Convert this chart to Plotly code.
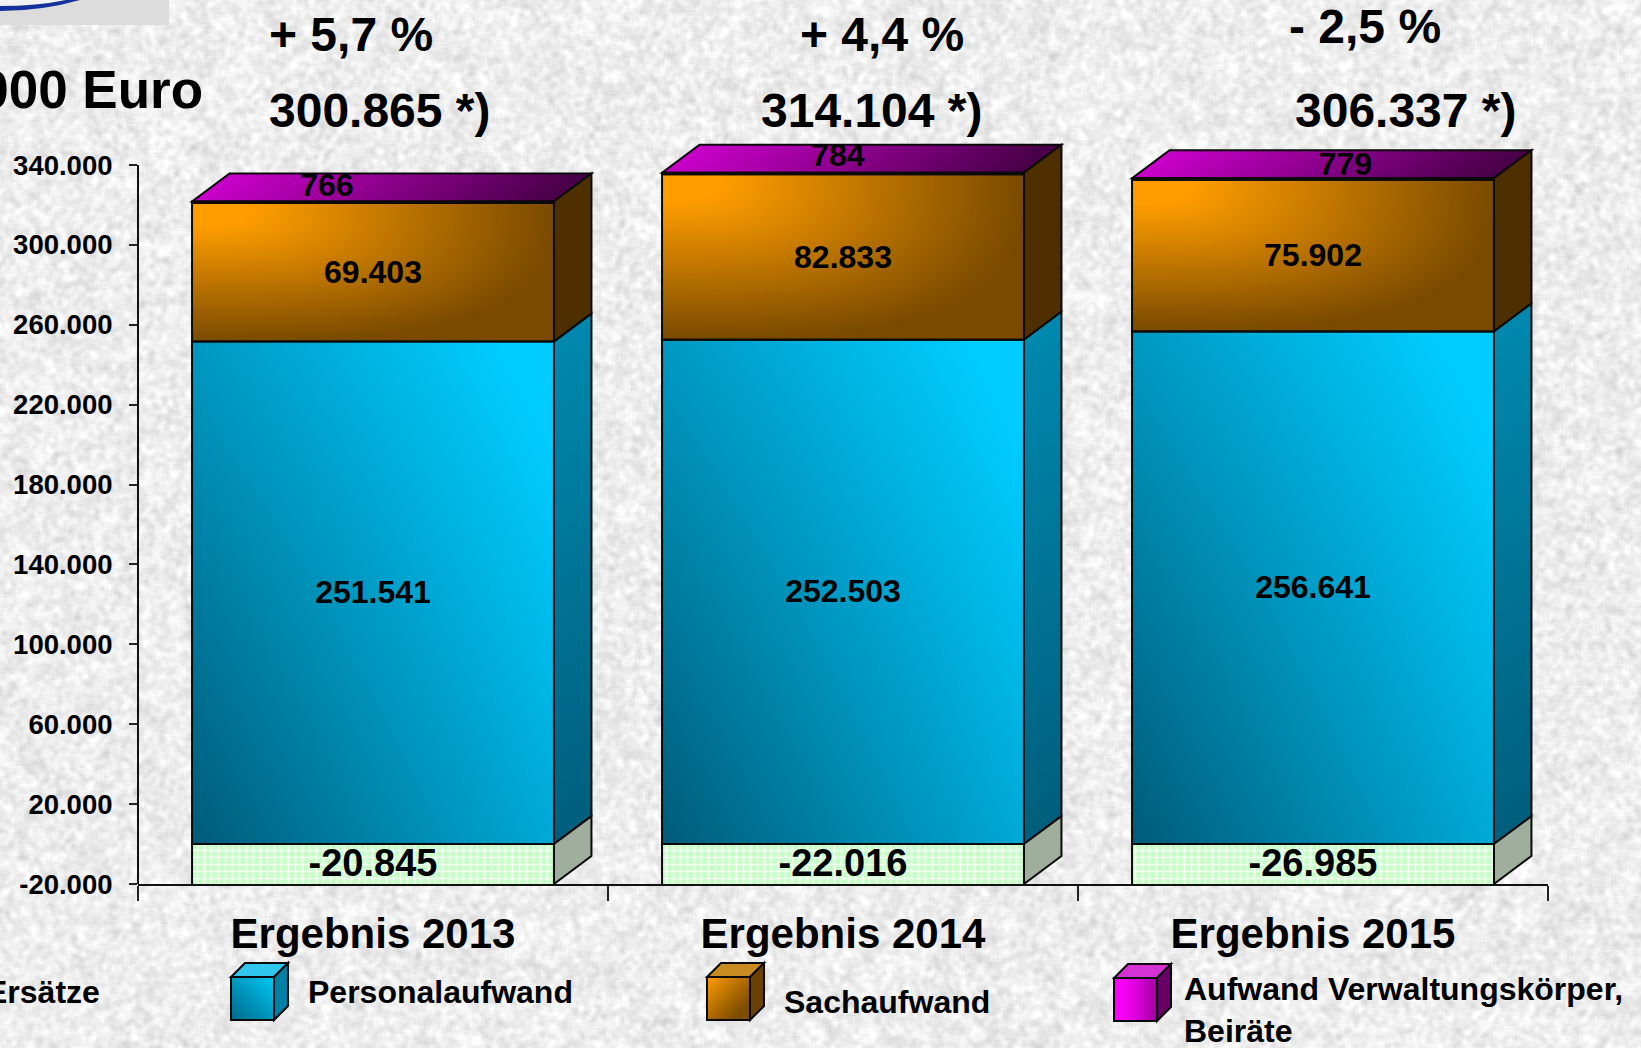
import base64, struct, zlib
import numpy as np
import plotly.graph_objects as go

# ---------- data ----------
years = ["Ergebnis 2013", "Ergebnis 2014", "Ergebnis 2015"]
ersaetze = [-20845, -22016, -26985]
personal = [251541, 252503, 256641]
sach = [69403, 82833, 75902]
verwaltung = [766, 784, 779]
change_labels = ["+ 5,7 %", "+ 4,4 %", "- 2,5 %"]
total_labels = ["300.865 *)", "314.104 *)", "306.337 *)"]
y_ticks = [-20000, 20000, 60000, 100000, 140000, 180000, 220000, 260000, 300000, 340000]
y_tick_text = ["-20.000", "20.000", "60.000", "100.000", "140.000", "180.000", "220.000", "260.000", "300.000", "340.000"]
ersaetze_text = ["-20.845", "-22.016", "-26.985"]
personal_text = ["251.541", "252.503", "256.641"]
sach_text = ["69.403", "82.833", "75.902"]
verwaltung_text = ["766", "784", "779"]

# ---------- style / layout constants ----------
W, H = 1641, 1048
ML, MR, MT, MB = 138, 93, 105, 164
PW, PH = W - ML - MR, H - MT - MB
Y_MIN, Y_MAX = -20000, 370000
BAR_W = 0.77
DX = 37.5 / 470        # depth of the 3D faces, category units
DY = 14000             # depth of the 3D faces, value units
FONT = "Liberation Sans"
XS = list(range(len(years)))
verw_label_dx = [-0.098, -0.011, 0.069]
verw_label_dy = [7900, 8600, 6800]
LABEL_NUDGE = -1300


def fx(px):
    return (px - ML) / PW


def fy(py):
    return 1 - (py - MT) / PH


def png(arr):
    """Encode a uint8 array (h, w) or (h, w, 3) as a PNG data URI."""
    arr = np.asarray(arr, dtype=np.uint8)
    ctype = 0 if arr.ndim == 2 else 2
    h, w = arr.shape[:2]
    raw = b"".join(b"\x00" + arr[i].tobytes() for i in range(h))

    def chunk(t, d):
        return struct.pack(">I", len(d)) + t + d + struct.pack(">I", zlib.crc32(t + d) & 0xFFFFFFFF)

    data = (b"\x89PNG\r\n\x1a\n" + chunk(b"IHDR", struct.pack(">IIBBBBB", w, h, 8, ctype, 0, 0, 0))
            + chunk(b"IDAT", zlib.compress(raw, 9)) + chunk(b"IEND", b""))
    return "data:image/png;base64," + base64.b64encode(data).decode()


def paper_texture():
    h, w = H // 2, W // 2
    yy, xx = np.mgrid[0:h, 0:w].astype(float)

    def hash_noise(a, b):
        v = np.sin(xx * a + yy * b) * 43758.5453
        return v - np.floor(v)

    def blur(v, k):
        for axis in (0, 1):
            v = sum(np.roll(v, s, axis=axis) for s in range(-k, k + 1)) / (2 * k + 1)
        return v

    fine = blur(hash_noise(12.9898, 78.233), 1)
    coarse = blur(blur(hash_noise(39.346, 11.135), 3), 2)
    fine = (fine - fine.mean()) / fine.std()
    coarse = (coarse - coarse.mean()) / coarse.std()
    g = 238 + 7.5 * fine + 2.5 * coarse
    return np.clip(g, 195, 255)


def gradient_png(c0, c1, fn, n=48):
    v, u = np.mgrid[0:n, 0:n] / (n - 1)
    t = fn(u, v)[..., None]
    return png(np.array(c0) * (1 - t) + np.array(c1) * t)


def hex_mix(c0, c1, t):
    return "rgb(%d,%d,%d)" % tuple(round(a + (b - a) * t) for a, b in zip(c0, c1))


def poly(points):
    return "M " + " L ".join(f"{x} {y}" for x, y in points) + " Z"


fig = go.Figure()


# ---------- gradient fronts (sit under the transparent bars) ----------
def blue_t(u, v):
    d = 0.5 * (1 - u) + 0.36 * v + 0.14 * (1 - u) * v
    return 1 - np.clip((d - 0.08) / 0.92, 0, 1)


def orange_t(u, v):
    d = (u ** 3 + v ** 3) ** (1 / 3)
    return np.clip((d - 0.16) / 0.84, 0, 1)


def gradient_front(centre, low, high, fn, colors):
    nx, ny = 50, 50
    xe = np.linspace(centre - BAR_W / 2, centre + BAR_W / 2, nx + 1)
    ye = np.linspace(low, high, ny + 1)
    uu = (np.arange(nx) + 0.5) / nx
    vv = 1 - (np.arange(ny) + 0.5) / ny
    u, v = np.meshgrid(uu, vv)
    fig.add_trace(go.Heatmap(x=xe, y=ye, z=fn(u, v), zmin=0, zmax=1, colorscale=colors,
                             showscale=False, hoverinfo="skip", zsmooth="best"))


for i in XS:
    gradient_front(i, 0, personal[i], blue_t, [[0, "#005b79"], [1, "#00ccff"]])
    gradient_front(i, personal[i], personal[i] + sach[i], orange_t, [[0, "#ff9d00"], [1, "#794a00"]])

# ---------- the stacked bars ----------
edge = dict(color="#0a0a0a", width=2)
fig.add_trace(go.Bar(x=XS, y=ersaetze, width=BAR_W, name="Ersätze",
                     marker=dict(color="#ccffcc", line=edge,
                                 pattern=dict(shape="+", size=7, solidity=0.42, fgcolor="#f0fff0",
                                              bgcolor="#c8fdc8", fillmode="replace"))))
fig.add_trace(go.Bar(x=XS, y=personal, width=BAR_W, name="Personalaufwand",
                     marker=dict(color="rgba(0,160,200,0)", line=edge)))
fig.add_trace(go.Bar(x=XS, y=sach, width=BAR_W, name="Sachaufwand",
                     marker=dict(color="rgba(180,110,0,0)", line=edge)))
fig.add_trace(go.Bar(x=XS, y=verwaltung, width=BAR_W, name="Aufwand Verwaltungskörper, Beiräte",
                     marker=dict(color="#c000c0", line=edge)))


# ---------- value labels ----------
def labels(xs, ys, text, size):
    fig.add_trace(go.Scatter(x=xs, y=[v + LABEL_NUDGE for v in ys], text=text, mode="text",
                             textposition="middle center",
                             textfont=dict(family=FONT, size=size, color="#000000", weight="bold"),
                             hoverinfo="skip", cliponaxis=False))


labels(XS, [max(v, Y_MIN) / 2 for v in ersaetze], ersaetze_text, 38)
labels(XS, [v / 2 for v in personal], personal_text, 32)
labels(XS, [p + s / 2 for p, s in zip(personal, sach)], sach_text, 32)
labels([i + d for i, d in zip(XS, verw_label_dx)],
       [p + s + v + d for p, s, v, d in zip(personal, sach, verwaltung, verw_label_dy)],
       verwaltung_text, 32)

# ---------- 3D faces built from the values ----------
shapes = []
STRIPS = 36
OUT = dict(color="#0a0a0a", width=2)
for i in XS:
    x0, x1 = i - BAR_W / 2, i + BAR_W / 2
    pe, so, total = personal[i], personal[i] + sach[i], personal[i] + sach[i] + verwaltung[i]
    floor_v = max(ersaetze[i], Y_MIN)
    # top face, horizontal gradient
    for k in range(STRIPS):
        a = x0 + (x1 - x0) * k / STRIPS
        b = x0 + (x1 - x0) * min(k + 1.4, STRIPS) / STRIPS
        shapes.append(dict(type="path", layer="below", xref="x", yref="y", line=dict(width=0),
                           fillcolor=hex_mix((0xC8, 0, 0xC8), (0x48, 0, 0x48), k / (STRIPS - 1)),
                           path=poly([(a, total), (b, total), (b + DX, total + DY), (a + DX, total + DY)])))
    shapes.append(dict(type="path", layer="below", xref="x", yref="y", line=OUT,
                       path=poly([(x0, total), (x1, total), (x1 + DX, total + DY), (x0 + DX, total + DY)])))
    # side of the orange part
    shapes.append(dict(type="path", layer="below", xref="x", yref="y", line=OUT, fillcolor="#4d2f00",
                       path=poly([(x1, pe), (x1 + DX, pe + DY), (x1 + DX, total + DY), (x1, total)])))
    # side of the blue part, vertical gradient
    for k in range(STRIPS):
        a = pe * k / STRIPS
        b = pe * min(k + 1.4, STRIPS) / STRIPS
        shapes.append(dict(type="path", layer="below", xref="x", yref="y", line=dict(width=0),
                           fillcolor=hex_mix((0x00, 0x5F, 0x7D), (0x00, 0x88, 0xAE), k / (STRIPS - 1)),
                           path=poly([(x1, a), (x1 + DX, a + DY), (x1 + DX, b + DY), (x1, b)])))
    shapes.append(dict(type="path", layer="below", xref="x", yref="y", line=OUT,
                       path=poly([(x1, 0), (x1 + DX, DY), (x1 + DX, pe + DY), (x1, pe)])))
    # side of the green part
    shapes.append(dict(type="path", layer="below", xref="x", yref="y", line=OUT, fillcolor="#9fae9d",
                       path=poly([(x1, floor_v), (x1 + DX, floor_v + DY), (x1 + DX, DY), (x1, 0)])))

# y axis line stops at the top tick
shapes.append(dict(type="line", xref="paper", yref="y", x0=0, x1=0, y0=Y_MIN, y1=y_ticks[-1],
                   line=dict(color="#111111", width=2)))

# logo remnant at the top left
shapes.append(dict(type="rect", layer="below", xref="paper", yref="paper", x0=fx(0), x1=fx(169),
                   y0=fy(25), y1=fy(0), fillcolor="#dcdcdc", line=dict(width=0)))
shapes.append(dict(type="path", layer="below", xref="paper", yref="paper", line=dict(width=0),
                   fillcolor="#f2f2f2",
                   path=f"M {fx(0)} {fy(0)} L {fx(66)} {fy(0)} Q {fx(35)} {fy(6)} {fx(0)} {fy(6)} Z"))
shapes.append(dict(type="path", layer="below", xref="paper", yref="paper", line=dict(width=0),
                   fillcolor="#14309a",
                   path=(f"M {fx(0)} {fy(6)} Q {fx(38)} {fy(6)} {fx(66)} {fy(0)} L {fx(80)} {fy(0)} "
                         f"Q {fx(42)} {fy(11)} {fx(0)} {fy(11)} Z")))

# ---------- legend cubes ----------
images = [dict(source=png(paper_texture()), xref="paper", yref="paper", x=fx(0), y=fy(0),
               sizex=W / PW, sizey=H / PH, xanchor="left", yanchor="top", sizing="stretch",
               layer="below")]
cubes = [
    (231, 274, 977, 1020, (0x00, 0x6A, 0x8C), (0x00, 0xC8, 0xF5), lambda u, v: np.clip((u + (1 - v)) / 2, 0, 1),
     "#30c6ee", "#0080a4"),
    (707, 750, 977, 1020, (0xFF, 0x9D, 0x00), (0x7E, 0x4D, 0x00), lambda u, v: np.clip((u + v) / 1.6, 0, 1),
     "#c98a22", "#6a4100"),
    (1114, 1157, 978, 1021, (0xFF, 0x00, 0xFF), (0xA0, 0x00, 0xA0), lambda u, v: u ** 1.5,
     "#d432d4", "#660066"),
]
CD = 14
for x0, x1, y0, y1, c0, c1, fn, top, side in cubes:
    images.append(dict(source=gradient_png(c0, c1, fn), xref="paper", yref="paper", x=fx(x0), y=fy(y0),
                       sizex=(x1 - x0) / PW, sizey=(y1 - y0) / PH, xanchor="left", yanchor="top",
                       sizing="stretch", layer="above"))
    pts_top = [(fx(x0), fy(y0)), (fx(x1), fy(y0)), (fx(x1 + CD), fy(y0 - CD)), (fx(x0 + CD), fy(y0 - CD))]
    pts_side = [(fx(x1), fy(y0)), (fx(x1 + CD), fy(y0 - CD)), (fx(x1 + CD), fy(y1 - CD)), (fx(x1), fy(y1))]
    for pts, col in ((pts_top, top), (pts_side, side)):
        shapes.append(dict(type="path", xref="paper", yref="paper", fillcolor=col, line=OUT, path=poly(pts)))
    shapes.append(dict(type="rect", xref="paper", yref="paper", x0=fx(x0), x1=fx(x1), y0=fy(y1), y1=fy(y0),
                       line=OUT))


# ---------- free text ----------
def note(text, px, py, size, anchor="center"):
    return dict(text=text, xref="paper", yref="paper", x=fx(px), y=fy(py), xanchor=anchor, yanchor="middle",
                showarrow=False, align="left", font=dict(family=FONT, size=size, color="#000000", weight="bold"))


annotations = [
    note("1.000 Euro", 205, 89, 53, "right"),
    note("Ersätze", 102, 992, 32, "right"),
    note("Personalaufwand", 306, 992, 32, "left"),
    note("Sachaufwand", 782, 1002, 32, "left"),
    note("Aufwand Verwaltungskörper,<br>Beiräte", 1182, 1010, 32, "left"),
]
for lab, px, py in zip(change_labels, [351, 882, 1365], [35, 35, 26]):
    annotations.append(note(lab, px, py, 48))
for lab, px in zip(total_labels, [380, 872, 1406]):
    annotations.append(note(lab, px, 110, 48))

fig.update_layout(
    width=W, height=H, margin=dict(l=ML, r=MR, t=MT, b=MB, pad=0, autoexpand=False),
    paper_bgcolor="#ececec", plot_bgcolor="rgba(0,0,0,0)",
    barmode="relative", showlegend=False, hovermode=False,
    shapes=shapes, images=images, annotations=annotations,
    xaxis=dict(range=[-0.5, 2.5], tickmode="array", tickvals=XS, ticktext=years, ticks="outside", ticklen=0,
               tickcolor="rgba(0,0,0,0)", tickfont=dict(family=FONT, size=42, color="#000000", weight="bold"),
               showgrid=False, zeroline=False, showline=True, linecolor="#111111", linewidth=2,
               ticklabelstandoff=12, fixedrange=True,
               minor=dict(tickmode="array", tickvals=[-0.5, 0.5, 1.5, 2.5], ticks="outside", ticklen=15,
                          tickwidth=1.5, tickcolor="#222222", showgrid=False)),
    yaxis=dict(range=[Y_MIN, Y_MAX], tickmode="array", tickvals=y_ticks, ticktext=y_tick_text, ticks="outside",
               ticklen=8, tickwidth=1.5, tickcolor="#222222",
               tickfont=dict(family=FONT, size=27.5, color="#000000", weight="bold"),
               showgrid=False, zeroline=False, showline=False, ticklabelstandoff=11, fixedrange=True),
)

fig.write_html("out.html", config={"displayModeBar": False},
               post_script="document.body.style.margin='0';document.documentElement.style.overflow='hidden';")
